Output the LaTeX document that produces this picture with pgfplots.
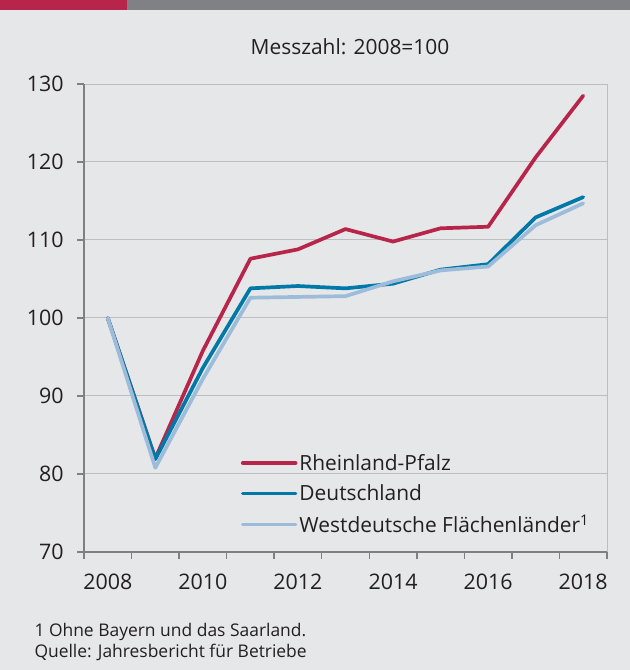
\documentclass[border=0pt]{standalone}
\usepackage{fontspec}
\setmainfont{Open Sans}
\usepackage{pgfplots}
\pgfplotsset{compat=1.18}
\definecolor{bg}{HTML}{E6E7E9}
\definecolor{rp}{HTML}{B8254B}
\definecolor{de}{HTML}{0079A8}
\definecolor{wf}{HTML}{9DBCD9}
\definecolor{barg}{HTML}{808184}
\definecolor{axisc}{HTML}{7F8082}
\definecolor{gridc}{HTML}{BDBEC0}
\definecolor{txt}{HTML}{231F20}
\pgfplotstableread{
year rp de wf
2008 100.0 100.0 100.0
2009 82.0 81.9 80.8
2010 95.8 93.6 92.2
2011 107.6 103.8 102.6
2012 108.8 104.1 102.7
2013 111.4 103.8 102.8
2014 109.8 104.4 104.7
2015 111.5 106.2 106.1
2016 111.7 106.9 106.6
2017 120.6 112.9 111.9
2018 128.5 115.5 114.7
}\datatable
\begin{document}
\begin{tikzpicture}
\useasboundingbox (0bp,0bp) rectangle (630bp,670bp);
\fill[bg] (0bp,0bp) rectangle (630bp,670bp);
\fill[rp] (0bp,660bp) rectangle (127bp,670bp);
\fill[barg] (127bp,660bp) rectangle (630bp,670bp);
\node[font=\fontsize{21}{25}\selectfont, text=txt] at (350bp,623bp) {Messzahl: 2008=100};
\begin{axis}[at={(84bp,118bp)}, anchor=south west, scale only axis,
  width=523bp, height=468bp,
  xmin=2007.5, xmax=2018.5, ymin=70, ymax=130,
  ytick={70,80,...,130},
  xtick={2008,2010,...,2018},
  minor xtick={2007.5,2008.5,...,2018.5},
  tick pos=left, tick align=outside,
  major tick length=7bp, minor tick length=7bp,
  major x tick style={draw=none},
  minor x tick style={axisc, line width=1.5bp},
  y tick style={axisc, line width=1.5bp},
  ymajorgrids, y grid style={gridc, line width=1bp},
  axis line style={gridc, line width=1bp},
  x tick label style={/pgf/number format/1000 sep={}},
  /pgf/number format/assume math mode=true,
  tick label style={font=\fontsize{21.5}{25}\selectfont, text=txt},
  yticklabel style={anchor=east, xshift=-10bp},
  xticklabel style={yshift=-11bp},
  legend style={draw=none, fill=none, at={(0.294,0.218)}, anchor=north west,
    font=\fontsize{21}{24}\selectfont, text=txt, row sep=9bp,
    /tikz/every even column/.append style={column sep=0bp}},
  legend cell align=left,
  legend image code/.code={\draw[#1, line width=3.5bp] (0bp,0bp) -- (53bp,0bp);},
  every axis plot/.append style={line width=3.7bp, line join=round, line cap=round},
  after end axis/.code={\draw[axisc, line width=2bp] (rel axis cs:0,1) -- (rel axis cs:0,0) -- (rel axis cs:1,0);},
]
\addplot[rp] table[x=year, y=rp] {\datatable};
\addlegendentry{Rheinland-Pfalz}
\addplot[de] table[x=year, y=de] {\datatable};
\addlegendentry{Deutschland}
\addplot[wf] table[x=year, y=wf] {\datatable};
\addlegendentry{Westdeutsche Flächenländer\textsuperscript{1}}
\end{axis}
\node[anchor=base west, font=\fontsize{17.5}{21}\selectfont, text=txt] at (31bp,34bp) {1 Ohne Bayern und das Saarland.};
\node[anchor=base west, font=\fontsize{17.5}{21}\selectfont, text=txt] at (31bp,13bp) {Quelle: Jahresbericht für Betriebe};
\end{tikzpicture}
\end{document}
